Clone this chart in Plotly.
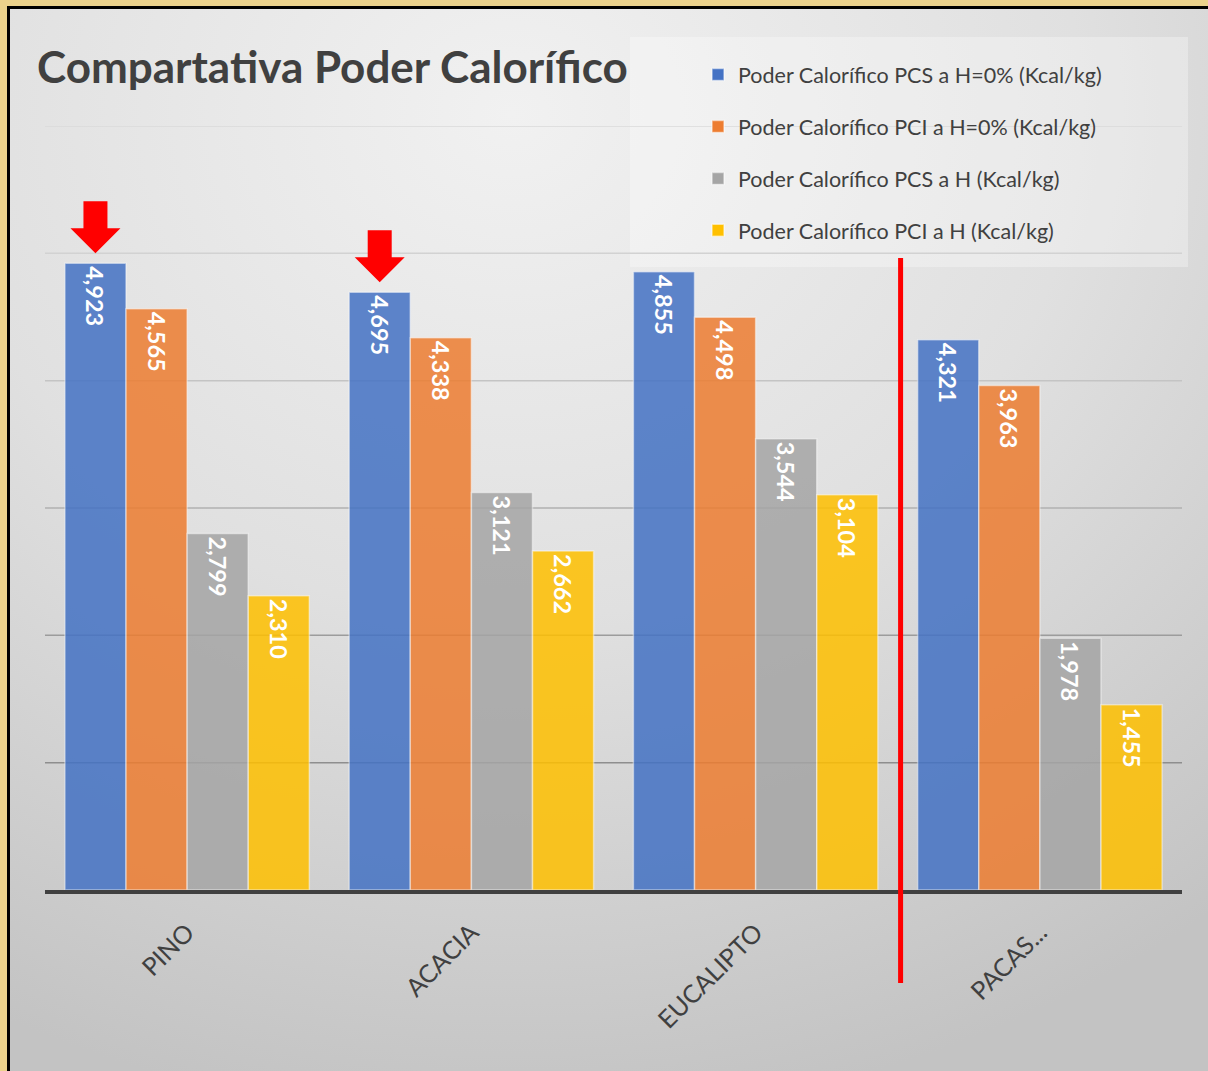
import base64
import plotly.graph_objects as go

# ---------------- data ----------------
categories = ["PINO", "ACACIA", "EUCALIPTO", "PACAS..."]
series_names = [
    "Poder Calorífico PCS a H=0% (Kcal/kg)",
    "Poder Calorífico PCI a H=0% (Kcal/kg)",
    "Poder Calorífico PCS a H (Kcal/kg)",
    "Poder Calorífico PCI a H (Kcal/kg)",
]
pcs_h0 = [4923, 4695, 4855, 4321]
pci_h0 = [4565, 4338, 4498, 3963]
pcs_h = [2799, 3121, 3544, 1978]
pci_h = [2310, 2662, 3104, 1455]
series_values = [pcs_h0, pci_h0, pcs_h, pci_h]
grid_values = [1000, 2000, 3000, 4000, 5000, 6000]
highlighted = ["PINO", "ACACIA"]   # categories marked with a red arrow (first series)

# ---------------- style ----------------
colors = ["#4472C4", "#ED7D31", "#A5A5A5", "#FFC000"]
grid_colors = ["#8e8e8e", "#9c9c9c", "#b0b0b0", "#c4c4c4", "#d2d2d2", "#dadada"]
W, H = 1208, 1071
ML, MR, MT, MB = 45, 26, 126, 181
PW, PH = W - ML - MR, H - MT - MB
BARGAP = 0.14
FONT = "Lato"
TXT = "#404040"
GOLD = "#ebd28c"

fig = go.Figure()
for name, vals, col in zip(series_names, series_values, colors):
    fig.add_trace(go.Bar(
        x=categories, y=vals, name=name,
        marker=dict(color=col, opacity=0.85,
                    line=dict(color="rgba(255,255,255,0.5)", width=1.5)),
        texttemplate="%{y:,.0f}", textposition="inside",
        insidetextanchor="end", textangle=90,
        textfont=dict(family=FONT, size=23.5, color="white", weight="bold"),
        legendgroup=name,
    ))

# background: golden frame + grey gradient panel + legend panel
svg = f'''<svg xmlns="http://www.w3.org/2000/svg" width="{W}" height="{H}" viewBox="0 0 {W} {H}" preserveAspectRatio="none">
<defs><radialGradient id="g" cx="0.42" cy="0.10" r="0.95">
<stop offset="0" stop-color="#f1f1f1"/><stop offset="0.5" stop-color="#e0e0e0"/><stop offset="1" stop-color="#c3c3c3"/></radialGradient></defs>
<rect width="{W}" height="{H}" fill="{GOLD}"/>
<rect x="8" y="7" width="{W-8}" height="{H-7}" fill="url(#g)"/>
<path d="M8.5,{H} L8.5,7.5 L{W},7.5" stroke="#000" stroke-width="3" fill="none"/>
<rect x="630" y="37" width="558" height="230" fill="#ffffff" fill-opacity="0.3"/>
</svg>'''
src = "data:image/svg+xml;base64," + base64.b64encode(svg.encode()).decode()
fig.add_layout_image(dict(
    source=src, xref="paper", yref="paper",
    x=-ML / PW, y=1 + MT / PH, sizex=W / PW, sizey=H / PH,
    xanchor="left", yanchor="top", sizing="stretch", layer="below",
))

shapes = []
for gv, gc in zip(grid_values, grid_colors):
    shapes.append(dict(type="line", xref="paper", yref="y", x0=0, x1=1, y0=gv, y1=gv,
                       line=dict(color=gc, width=1.5), layer="below"))

# red arrows above highlighted bars of first series
nser = len(series_names)
bw = (1 - BARGAP) / nser
off0 = -(nser - 1) / 2 * bw
arrow = "M0,10 L25,35 L12,35 L12,62 L-12,62 L-12,35 L-25,35 Z"
for c in highlighted:
    i = categories.index(c)
    shapes.append(dict(type="path", xref="x", yref="y", xsizemode="pixel", ysizemode="pixel",
                       xanchor=i + off0, yanchor=series_values[0][i], path=arrow,
                       fillcolor="#FF0000", line=dict(width=0)))

# red separator line
shapes.append(dict(type="line", xref="x", yref="paper", x0=2.51, x1=2.51,
                   y0=1 - (983 - MT) / PH, y1=1 - (258 - MT) / PH,
                   line=dict(color="#FF0000", width=5)))

fig.update_layout(
    width=W, height=H,
    margin=dict(l=ML, r=MR, t=MT, b=MB, pad=0),
    paper_bgcolor=GOLD, plot_bgcolor="rgba(0,0,0,0)",
    barmode="group", bargap=BARGAP, bargroupgap=0,
    title=dict(text="<b>Compartativa Poder Calorífico</b>", x=37 / W, xref="container",
               xanchor="left", y=1 - 68 / H, yanchor="middle",
               font=dict(family=FONT, size=44, color=TXT)),
    legend=dict(x=(698 - ML) / PW, xanchor="left", y=1 + (MT - 54) / PH, yanchor="top",
                font=dict(family=FONT, size=21.5, color=TXT), bgcolor="rgba(0,0,0,0)",
                traceorder="grouped", tracegroupgap=21),
    shapes=shapes,
    showlegend=True,
)
fig.update_xaxes(showline=True, linecolor="#404040", linewidth=4, ticks="",
                 tickangle=-45, tickfont=dict(family=FONT, size=25, color=TXT),
                 ticklabelstandoff=14, showgrid=False)
fig.update_yaxes(range=[0, 6000], showgrid=False, showticklabels=False,
                 zeroline=False, showline=False)

fig.write_html(
    "out.html",
    config={"displayModeBar": False},
    post_script=f"document.body.style.margin='0';document.body.style.background='{GOLD}';",
)
